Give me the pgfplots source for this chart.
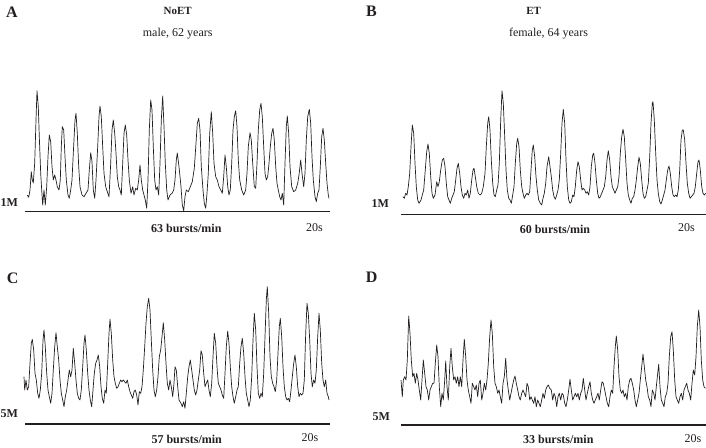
\documentclass[border=0pt]{standalone}
\usepackage{pgfplots}
\pgfplotsset{compat=1.18}
\usepackage{fontspec}
\setmainfont{Liberation Serif}
\definecolor{ink}{HTML}{231F20}
\begin{document}
\begin{tikzpicture}
\begin{axis}[at={(0,0)},anchor=south west,scale only axis,width=706pt,height=447pt,
  xmin=0,xmax=706,ymin=0,ymax=447,y dir=reverse,hide axis,clip=false]
% baselines
\addplot[ink,line width=1.3pt] coordinates {(25,211.7)(330,211.7)};
\addplot[ink,line width=1.3pt] coordinates {(401.3,214.3)(706,214.3)};
\addplot[ink,line width=1.3pt] coordinates {(25,424)(330,424)};
\addplot[ink,line width=1.3pt] coordinates {(401.3,425)(706,425)};
% Panel A
\addplot[ink,line width=0.7pt,line join=round] coordinates {
(27.3,195)(28.7,197.3)(30,190)(31.3,171.7)(32.3,180)(33.3,183)(34.7,163)(36,120)(37,90.7)(38.3,106.7)(39.3,136.7)(40.7,173.3)(41.7,190)(42.7,205)(44,190)(45.3,205)(46.7,186.7)(48,156.7)(49.3,135)(50.7,141.7)(52,166.7)(53.3,180)(54.7,175)(56,180)(57.3,186.7)(59,190)(60.3,180)(61.3,146.7)(62.3,126.7)(63.7,130)(65,156.7)(66.3,180)(68,195)(69.3,198.3)(70.7,190)(72,180)(73.3,153.3)(75,120)(76,113.3)(77.3,133.3)(78.7,166.7)(80,186.7)(82,195)(84,196.7)(86,193.3)(88,190)(89.3,170)(90.7,152.7)(92,161.7)(93.3,190)(94.7,198.3)(96,180)(97.7,146.7)(99,116.7)(100,106)(101.3,116.7)(102.7,146.7)(104,173.3)(105.7,186.7)(107.3,191.7)(109,196.7)(110.7,163.3)(112,130)(113.3,120)(114.7,133.3)(116,153.3)(117.3,176.7)(118.7,186.7)(120,190)(121.3,195)(122.7,163.3)(124,133.3)(125.3,125)(126.7,135)(128,160)(129.3,180)(131,193.3)(132.7,186.7)(134,195)(135.7,188.3)(137.3,190)(138.7,180)(140,165)(141.3,180)(142.7,190)(144,195)(145.3,200)(146.7,208.3)(148,180)(149.3,130)(150.7,100)(152,110)(153.3,146.7)(154.7,180)(156,190)(157.3,186.7)(158.7,195)(160,163.3)(161.3,120)(162.7,96)(164,126.7)(165.3,163.3)(166.7,190)(168,200)(170,195)(172,193.3)(173.7,190)(175,180)(176.3,160)(177.3,153)
(179,166.7)(181,186.7)(182.3,205)(183.7,210.7)(185,196.7)(186.3,190)(188.3,191.7)(190.3,186.7)(192.3,181.7)(194.3,168.3)(196,143.3)(197.3,123.3)(198.7,118.3)(200,130)(201.3,166.7)(203,190)(204.3,203.3)(205.7,208.3)(207,193.3)(208.3,173.3)(209.7,133.3)(211.3,111.7)(212.7,133.3)(214,163.3)(215.7,176.7)(217.3,180)(219,186.7)(220.7,190)(222.3,193.3)(223.7,176.7)(225,155)(226.3,166.7)(227.7,186.7)(229,195)(230.3,190)(231.7,163.3)(233,130)(234.3,116.7)(235.7,110.7)(237,126.7)(238.3,160)(239.7,180)(241.7,190)(243.7,195)(245.7,190)(247,173.3)(248.3,146.7)(250,132.7)(251.3,140)(252.7,163.3)(254.3,186.7)(255.7,188.3)(257,163.3)(258.3,130)(259.7,110)(261,103.3)(262.3,116.7)(263.7,146.7)(265,173.3)(266.3,180)(267.7,176.7)(269,163.3)(270.3,146.7)(271.7,133.3)(273,128.3)(274.3,140)(275.7,166.7)(277,183.3)(278.3,190)(279.7,196.7)(281,200)(282.3,193.3)(283.7,205)(285,163.3)(286.3,126.7)(287.3,116)(288.7,133.3)(290,166.7)(291.7,186.7)(293.7,191.7)(295.7,190)(297.7,183.3)(299,175)(300.7,160)(302,173.3)(303.7,186.7)(305,173.3)(306.3,140)(307.7,116.7)(309.3,109.3)(310.7,123.3)(312,156.7)(313.3,180)(315,196.7)(316.3,201.7)(317.7,193.3)(319,190)(320.3,166.7)(321.7,136.7)(323,128.3)(324.3,140)(325.7,163.3)(327,183.3)(328.3,195)(329,198.3)};
% Panel B
\addplot[ink,line width=0.7pt,line join=round] coordinates {
(403,196.7)(404.3,198.3)(405.7,193.3)(407,195)(408.3,186.7)(409.7,173.3)(411,146.7)(412.3,125)(413.7,133.3)(415,163.3)(416.3,186.7)(417.7,200)(419,203.3)(421,200)(422.3,195)(423.7,190)(425,173.3)(426.7,151.7)(428,144)(429.3,153.3)(430.7,176.7)(432,193.3)(433.3,198.3)(435,195)(436.7,181.7)(438,186.7)(439.3,181.7)(440.7,170)(442.3,160)(443.7,158.3)(445,166.7)(446.3,183.3)(447.7,196.7)(449,200)(450.3,203.3)(451.7,198.3)(453,195)(454.3,191.7)(455.7,180)(457,168.3)(458.3,163.3)(459.7,173.3)(461,186.7)(462.3,195)(463.7,198.3)(465,193.3)(466.3,195)(467.7,190)(469,198.3)(470.3,193.3)(471.7,180)(473,170)(474,168.3)(475.3,176.7)(476.7,186.7)(478.3,193.3)(480,195)(481.7,193.3)(483.3,186.7)(485,173.3)(486.3,146.7)(487.7,123.3)(488.7,116.7)(490,130)(491.3,160)(492.7,183.3)(494,195)(495.3,196.7)(496.7,190)(498,185)(499.3,163.3)(500.7,120)(502,90.7)(503.3,103.3)(504.7,136.7)(506,170)(507.3,190)(508.7,198.3)(510,200)(511.3,203.3)(512.7,195)(514,186.7)(515.3,163.3)(516.7,143.3)(517.7,138.3)(519,146.7)(520.3,170)(521.7,186.7)(523,193.3)(524.3,198.3)(525.7,195)(527,193.3)(528.3,195)(529.7,191.7)(531,170)(532.3,150)(533.3,145)(534.7,156.7)(536,176.7)(537.3,190)(538.7,200)(540.3,203.3)(541.7,205)(543,198.3)(544.3,193.3)(545.7,183.3)(547,166.7)(548.7,156.7)
(551.3,176.7)(552.7,190)(554,196.7)(555.3,199.3)(556.7,195)(558,190)(559.3,180)(560.7,153.3)(562,123.3)(563.3,109.3)(564.7,123.3)(566,160)(567.3,186.7)(568.7,200)(570,203.3)(571.3,201.7)(572.7,195)(574,196.7)(575.3,186.7)(576.7,170)(578,161.7)(579.3,166.7)(580.7,180)(582,190)(583.3,188.3)(584.7,190)(586,193.3)(587.3,191.7)(588.7,195)(590,186.7)(591.3,166.7)(592.7,155)(593.7,153.3)(595,163.3)(596.3,180)(597.7,193.3)(599,198.3)(600.3,196.7)(601.7,193.3)(603,190)(604.3,186.7)(605.7,176.7)(607,160)(608.3,150.7)(609.7,160)(611,176.7)(612.3,186.7)(613.7,190)(615,193.3)(616.3,190)(617.7,186.7)(619,176.7)(620.3,153.3)(621.7,136.7)(623,129.3)(624.3,136.7)(625.7,160)(627,183.3)(628.3,195)(629.7,200)(631,203.3)(632.3,198.3)(633.7,196.7)(635,190)(636.3,180)(637.7,166.7)(639,157.3)(640.3,163.3)(641.7,180)(643,193.3)(644.3,198.3)(645.7,196.7)(647,190)(648.3,183.3)(649.7,156.7)(651,123.3)(652.3,103.3)(653,101.7)(654.3,120)(655.7,153.3)(657,180)(658.3,193.3)(659.7,201.7)(661,204)(662.3,200)(663.7,195)(665,190)(666.3,180)(667.7,170)(669,166)(670.3,173.3)(671.7,186.7)(673,195)(674.3,196.7)(675.7,195)(677,196.7)(678.3,190)(679.7,170)(681,140)(682.3,130)(683.3,130)(684.7,140)(686,163.3)(687.3,183.3)(688.7,193.3)(690,198.3)(691.3,196.7)(692.7,195)(694,193.3)(695.3,186.7)(696.7,173.3)(698,161.7)(699,160)(700.3,170)(701.7,186.7)(703,193.3)(704.3,195)(705.7,193.3)};
% Panel C
\addplot[ink,line width=0.7pt,line join=round] coordinates {
(24,376.7)(24.7,390)(26,380)(27.3,390)(28.7,386.7)(30,363.3)(31.3,343.3)(32.3,339.3)(33.7,350)(35,373.3)(36.3,380)(37.7,393.3)(39,398.3)(40.3,390)(41.7,373.3)(43,340)(44,330)(45.3,346.7)(46.7,373.3)(48,390)(49.3,396.7)(50.7,403.3)(52,393.3)(53.3,370)(54.7,346.7)(56,332.7)(57.3,346.7)(58.7,360)(60,380)(61.3,393.3)(62.7,400)(64,406.7)(65.3,396.7)(66.7,390)(68,380)(69.3,370)(70.7,376.7)(72,370)(73.3,348.3)(74.7,363.3)(76,380)(77.3,393.3)(78.7,398.3)(80,400)(81.3,390)(82.7,366.7)(84,343.3)(85,335)(86.3,350)(87.7,373.3)(89,390)(90.3,400)(91.7,406.7)(93,390)(94.3,373.3)(95.7,363.3)(97,360)(98.3,355)(99.7,366.7)(101,386.7)(102.3,398.3)(103.7,403.3)(105,390)(106.3,393.3)(107.7,363.3)(109,333.3)(110,319.3)(111.3,333.3)(112.7,360)(114,376.7)(115.3,383.3)(116.7,388.3)(118,386.7)(119.3,383.3)(120.7,380)(122,381.7)(123.3,380)(124.7,381.7)(126,383.3)(127.3,380)(128.7,386.7)(130,391.7)(131.3,395)(132.7,398.3)(134,391.7)(135.3,390)(136.7,395)(138,405)(139.3,391.7)(140.7,393.3)(142,386.7)(143.3,370)(144.7,346.7)(146,323.3)(147.3,306.7)(148.7,298.3)(150,310)(151.3,340)(152.7,370)(154,390)(155.3,396.7)(156.7,390)(158,376.7)(159.3,356.7)(160.7,350)(162,336.7)(163.3,322.7)(164.7,340)(166,363.3)(167.3,383.3)(168.7,390)(170,380)(171.3,386.7)(172.7,396.7)(174,383.3)(175,366.7)(176.3,370)(177.7,386.7)(179,400)(181,403.3)(182.3,406.7)(183.7,401.7)(185,408.3)(186.3,393.3)(187.7,376.7)(189,366.7)(190.3,360)(191.7,370)(193,380)(194.3,390)(195.7,395)(197,390)(198.3,380)(199.7,370)(201,350.7)(202.3,355)(203.7,373.3)(205,386.7)(206.3,383.3)(207.7,380)(209,390)(210.3,396.7)(211.7,383.3)(213,356.7)(214.3,333.3)(215.7,343.3)(217,366.7)(218.3,383.3)(219.7,386.7)(221,390)(222.3,395)(223.7,398.3)(225,373.3)(226.3,346.7)(227.7,331)(229,343.3)(230.3,366.7)(231.7,386.7)(233,396.7)(234.3,403.3)(235.7,396.7)(237,390)(238.3,386.7)(239.7,363.3)(241,346.7)(242.3,338.3)(243.7,353.3)(245,376.7)(246.3,393.3)(247.7,400)(249,406.7)(250.3,400)(251.7,376.7)(253,340)(254.3,313.3)(255.7,330)(257,366.7)(258.3,393.3)(259.7,398.3)(261,393.3)(262.3,396.7)(263.7,373.3)(265,336.7)(266.3,300)(267.3,286.7)(268.7,313.3)(270,356.7)(271.3,376.7)(272.7,383.3)(274,386.7)(275.3,391.7)(276.7,380)(278,353.3)(279.3,326.7)(280.3,318.3)(281.7,336.7)(283,366.7)(284.3,386.7)(285.7,396.7)(287,400)(288.3,398.3)(289.7,401.7)(291,390)(292.3,376.7)(293.7,363.3)(295,355)(296.3,366.7)(297.7,386.7)(299,396.7)(300.3,393.3)(301.7,395)(303,393.3)(304.3,380)(305.7,333.3)(307,303.3)(308.3,313.3)(309.7,340)(311,373.3)(312.3,386.7)(313.7,380)(315,383.3)(316.3,370)(317.7,336.7)(319,313.3)(320.3,330)(321.7,363.3)(323,380)(324.3,386.7)(325.7,380)(327,393.3)(328.3,396.7)(329,400)};
% Panel D
\addplot[ink,line width=0.7pt,line join=round] coordinates {
(401,380)(402.3,396.7)(403.3,380)(404.7,376.7)(406,380)(407.3,360)(408.7,316)(410,333.3)(411.3,360)(412.7,376.7)(414,373.3)(415.3,383.3)(416.7,373.3)(418,380)(419.3,390)(420.7,400)(422,380)(423.3,360)(424.7,373.3)(426,386.7)(427.3,390)(428.7,400)(430,390)(431.3,386.7)(432.7,383.3)(434,383.3)(435.3,363.3)(436.7,345)(438,356.7)(439.3,386.7)(440.7,406.7)(442,393.3)(443.3,400)(444.7,380)(445.7,361)(447,386.7)(448.3,400)(449.7,366.7)(451,348.3)(452.3,366.7)(453.7,380)(455,376.7)(456.3,383.3)(457.7,376.7)(459,386.7)(460.3,376.7)(461.7,386.7)(463,360)(464.3,339.3)(465.7,356.7)(467,380)(468.3,390)(469.7,396.7)(471,403.3)(472.3,383.3)(473.7,386.7)(475,390)(476.3,385)(477.7,396.7)(479,383.3)(480.3,380)(481.7,400)(483,393.3)(484.3,383.3)(485.7,390)(487,380)(488.3,363.3)(489.7,336.7)(491,320)(492.3,333.3)(493.7,366.7)(495,383.3)(496.3,386.7)(497.7,393.3)(499,390)(500.3,396.7)(501.7,403.3)(503,383.3)(504.3,376.7)(505.7,358.3)(507,380)(508.3,390)(509.7,400)(511,393.3)(512.3,386.7)(513.7,380)(515,376)(516.3,383.3)(517.7,390)(519,396.7)(520.3,400)(521.7,393.3)(523,390)(524.3,393.3)(525.7,396.7)(527,383.3)(528.3,386.7)(529.7,400)(531,396.7)(532.3,400)(533.7,403.3)(535,396.7)(536.3,406.7)(537.7,400)(539,403.3)(540.3,406.7)(541.7,400)(543,393.3)(544.3,398.3)(545.7,390)(547,386.7)(548.3,385)(549.7,388.3)
(551.3,390)(552.7,400)(554,393.3)(555.3,396.7)(556.7,406.7)(558,396.7)(559.3,393.3)(560.7,400)(562,393.3)(563.3,395)(564.7,403.3)(566,406.7)(567.3,400)(568.7,390)(570,379.3)(571.3,390)(572.7,400)(574,396.7)(575.3,393.3)(576.7,396.7)(578,393.3)(579.3,400)(580.7,393.3)(582,390)(583.3,378.3)(584.7,390)(586,400)(587.3,393.3)(588.7,386.7)(590,381.7)(591.3,393.3)(592.7,400)(594,403.3)(595.3,400)(596.7,396.7)(598,393.3)(599.3,400)(600.7,390)(602,381.7)(603.3,383.3)(604.7,390)(606,396.7)(607.3,403.3)(608.7,406.7)(610,396.7)(611.3,390)(612.7,393.3)(614,366.7)(615.3,346.7)(616.3,336)(617.7,350)(619,376.7)(620.3,390)(621.7,393.3)(623,390)(624.3,396.7)(625.7,393.3)(627,400)(628.3,386.7)(629.7,380)(631,378.3)(632.3,383.3)(633.7,390)(635,400)(636.3,406.7)(637.7,400)(639,393.3)(640.3,380)(641.7,366.7)(643,354)(644.3,366.7)(645.7,380)(647,386.7)(648.3,396.7)(649.7,400)(651,406.7)(652.3,390)(653.7,393.3)(655,400)(656.3,386.7)(657.7,373.3)(658.7,364.3)(660,386.7)(661.3,400)(662.7,403.3)(664,406.7)(665.3,396.7)(666.7,393.3)(668,383.3)(669.3,356.7)(670.7,336.7)(672,331.7)(673.3,350)(674.7,380)(676,396.7)(677.3,400)(678.7,403.3)(680,396.7)(681.3,393.3)(682.7,400)(684,390)(685.3,386.7)(686.7,383.3)(688,390)(689.3,393.3)(690.7,400)(692,383.3)(693.3,370)(694.7,375)(696,356.7)(697.3,326.7)(698.7,310)(700,326.7)(701.3,360)(702.7,380)(704,386.7)(705.3,388.3)};
% texts
\begin{scope}[every node/.style={text=ink,inner sep=0pt}]
\node[anchor=base west,font=\bfseries\fontsize{16}{16}\selectfont] at (axis cs:6,17.3) {A};
\node[anchor=base west,font=\bfseries\fontsize{16}{16}\selectfont] at (axis cs:366,16.7) {B};
\node[anchor=base west,font=\bfseries\fontsize{16}{16}\selectfont] at (axis cs:6.7,283.3) {C};
\node[anchor=base west,font=\bfseries\fontsize{16}{16}\selectfont] at (axis cs:365.7,282.3) {D};
\node[anchor=base,font=\bfseries\fontsize{11}{11}\selectfont] at (axis cs:177.7,14.3) {NoET};
\node[anchor=base,font=\fontsize{12}{12}\selectfont] at (axis cs:177.7,36.7) {male, 62 years};
\node[anchor=base,font=\bfseries\fontsize{11}{11}\selectfont] at (axis cs:533.6,14.3) {ET};
\node[anchor=base,font=\fontsize{12}{12}\selectfont] at (axis cs:548.5,36.7) {female, 64 years};
\node[anchor=base west,font=\bfseries\fontsize{12}{12}\selectfont] at (axis cs:0.5,206.7) {1M};
\node[anchor=base west,font=\bfseries\fontsize{12}{12}\selectfont] at (axis cs:371.3,207.3) {1M};
\node[anchor=base west,font=\bfseries\fontsize{12}{12}\selectfont] at (axis cs:0.5,417.3) {5M};
\node[anchor=base west,font=\bfseries\fontsize{12}{12}\selectfont] at (axis cs:372.3,420) {5M};
\node[anchor=base,font=\bfseries\fontsize{12}{12}\selectfont] at (axis cs:186.3,232.5) {63 bursts/min};
\node[anchor=base,font=\bfseries\fontsize{12}{12}\selectfont] at (axis cs:555,233) {60 bursts/min};
\node[anchor=base,font=\bfseries\fontsize{12}{12}\selectfont] at (axis cs:186.7,443) {57 bursts/min};
\node[anchor=base,font=\bfseries\fontsize{12}{12}\selectfont] at (axis cs:558.3,443) {33 bursts/min};
\node[anchor=base,font=\fontsize{12}{12}\selectfont] at (axis cs:314.5,231) {20s};
\node[anchor=base,font=\fontsize{12}{12}\selectfont] at (axis cs:686.5,231.5) {20s};
\node[anchor=base,font=\fontsize{12}{12}\selectfont] at (axis cs:310,441.5) {20s};
\node[anchor=base,font=\fontsize{12}{12}\selectfont] at (axis cs:693,442) {20s};
\end{scope}
\end{axis}
\pgfresetboundingbox
\path[use as bounding box] (0,0) rectangle (706pt,447pt);
\end{tikzpicture}
\end{document}
